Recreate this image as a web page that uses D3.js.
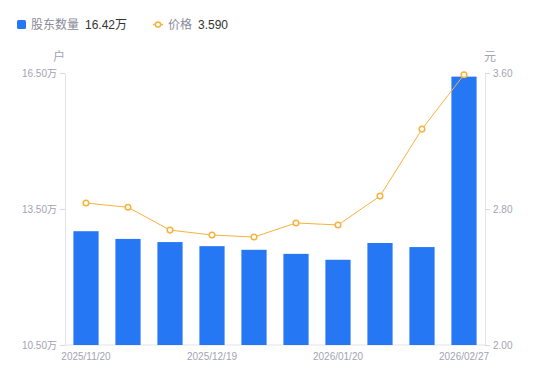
<!DOCTYPE html>
<html>
<head>
<meta charset="utf-8">
<script src="https://cdn.jsdelivr.net/npm/d3@7"></script>
<style>
  body { margin: 0; background: #fff; font-family: "Liberation Sans", "Noto Sans CJK SC", sans-serif; }
</style>
</head>
<body>
<svg id="chart" width="550" height="381"></svg>
<script>
// dates, holders (万户) and price (元)
var dates = ["2025/11/20", "2025/11/28", "2025/12/10", "2025/12/19", "2025/12/31",
             "2026/01/09", "2026/01/20", "2026/01/30", "2026/02/10", "2026/02/27"];
var holders = [13.01, 12.84, 12.77, 12.68, 12.60, 12.51, 12.38, 12.75, 12.66, 16.42];
var price = [2.835, 2.81, 2.676, 2.647, 2.635, 2.718, 2.706, 2.876, 3.27, 3.59];
var leftTicks = [10.5, 13.5, 16.5];
var rightTicks = [2.0, 2.8, 3.6];
var shownDates = ["2025/11/20", "2025/12/19", "2026/01/20", "2026/02/27"];

var blue = "#2577f4", orange = "#f7b23b", grey = "#a3a3b3";
var font = "'Liberation Sans', 'Noto Sans CJK SC', sans-serif";
var margin = {left: 65, right: 65, top: 73, bottom: 36};
var width = 550 - margin.left - margin.right;
var height = 381 - margin.top - margin.bottom;

var svg = d3.select("#chart");

var x = d3.scaleBand().domain(dates).range([0, width]).paddingInner(0.4).paddingOuter(0.2);
var yL = d3.scaleLinear().domain([10.5, 16.5]).range([height, 0]);
var yR = d3.scaleLinear().domain([2.0, 3.6]).range([height, 0]);

var g = svg.append("g").attr("transform", "translate(" + margin.left + "," + margin.top + ")");

// axes
var leftAxis = g.append("g")
  .call(d3.axisLeft(yL).tickValues(leftTicks).tickSize(5).tickPadding(3)
    .tickFormat(d => d3.format(".2f")(d) + "万"));
var rightAxis = g.append("g").attr("transform", "translate(" + width + ",0)")
  .call(d3.axisRight(yR).tickValues(rightTicks).tickSize(5).tickPadding(3)
    .tickFormat(d3.format(".2f")));
var bottomAxis = g.append("g").attr("transform", "translate(0," + height + ")")
  .call(d3.axisBottom(x).tickSize(0).tickPadding(8)
    .tickFormat(d => shownDates.indexOf(d) >= 0 ? d : ""));

[leftAxis, rightAxis, bottomAxis].forEach(function (a) {
  a.select(".domain").attr("stroke", "#e3e3e8");
  a.selectAll(".tick line").attr("stroke", "#d8d8de");
  a.selectAll(".tick text").attr("fill", grey).attr("font-size", 10)
    .attr("font-family", font);
});
bottomAxis.select(".domain").attr("d", "M0,0H" + width);

// unit labels
g.append("text").attr("x", -6).attr("y", -12).attr("text-anchor", "middle")
  .attr("fill", grey).attr("font-size", 12).attr("font-family", "'Noto Sans CJK SC'").text("户");
g.append("text").attr("x", width + 5).attr("y", -12).attr("text-anchor", "middle")
  .attr("fill", grey).attr("font-size", 12).attr("font-family", "'Noto Sans CJK SC'").text("元");

// bars
g.selectAll("rect.bar").data(holders).enter().append("rect")
  .attr("class", "bar")
  .attr("x", (d, i) => x(dates[i]))
  .attr("width", x.bandwidth())
  .attr("y", d => yL(d))
  .attr("height", d => height - yL(d))
  .attr("fill", blue);

// price line
var line = d3.line().x((d, i) => x(dates[i]) + x.bandwidth() / 2).y(d => yR(d));
g.append("path").datum(price).attr("d", line)
  .attr("fill", "none").attr("stroke", orange).attr("stroke-width", 1);
g.selectAll("circle.pt").data(price).enter().append("circle")
  .attr("class", "pt")
  .attr("cx", (d, i) => x(dates[i]) + x.bandwidth() / 2)
  .attr("cy", d => yR(d))
  .attr("r", 2.8)
  .attr("fill", "#fff").attr("stroke", orange).attr("stroke-width", 1.5);

// legend
var lg = svg.append("g").attr("font-size", 12).attr("font-family", font);
lg.append("rect").attr("x", 17).attr("y", 20).attr("width", 9).attr("height", 9)
  .attr("rx", 1.5).attr("fill", blue);
lg.append("text").attr("x", 31).attr("y", 29).attr("fill", "#8a8a99").text("股东数量");
lg.append("text").attr("x", 85).attr("y", 29).attr("fill", "#333")
  .text(d3.format(".2f")(holders[holders.length - 1]) + "万");
lg.append("line").attr("x1", 153).attr("x2", 163).attr("y1", 24.5).attr("y2", 24.5)
  .attr("stroke", orange).attr("stroke-width", 1.5);
lg.append("circle").attr("cx", 158).attr("cy", 24.5).attr("r", 2.6)
  .attr("fill", "#fff").attr("stroke", orange).attr("stroke-width", 1.5);
lg.append("text").attr("x", 168).attr("y", 29).attr("fill", "#8a8a99").text("价格");
lg.append("text").attr("x", 198).attr("y", 29).attr("fill", "#333")
  .text(d3.format(".3f")(price[price.length - 1]));
</script>
</body>
</html>
